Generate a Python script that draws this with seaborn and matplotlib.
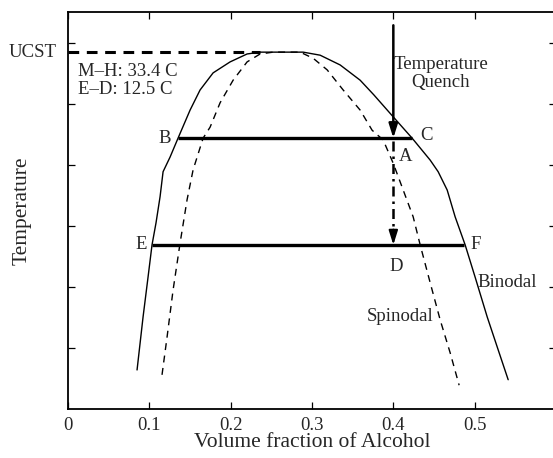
import matplotlib
matplotlib.use("Agg")
import matplotlib.pyplot as plt
import seaborn as sns
import pandas as pd

# ---- data ----
binodal_x = [0.0849, 0.0923, 0.0984, 0.1033, 0.1082, 0.1132, 0.1169, 0.1255, 0.1353,
             0.1501, 0.1624, 0.1784, 0.1993, 0.2202, 0.2362, 0.2891, 0.3100, 0.3346,
             0.3592, 0.3760, 0.3998, 0.4231, 0.4453, 0.4551, 0.4662, 0.4760, 0.4883,
             0.5006, 0.5154, 0.5289, 0.5412]
binodal_y = [0.64, 1.51, 2.16, 2.69, 3.05, 3.48, 3.89, 4.13, 4.44,
             4.90, 5.23, 5.51, 5.69, 5.82, 5.85, 5.85, 5.80, 5.64,
             5.39, 5.15, 4.79, 4.44, 4.08, 3.89, 3.59, 3.15, 2.69,
             2.16, 1.51, 0.97, 0.48]
spinodal_x = [0.1156, 0.1218, 0.1292, 0.1378, 0.1464, 0.1538, 0.1661, 0.1747, 0.1870,
              0.2030, 0.2202, 0.2362, 0.2522, 0.2854, 0.3014, 0.3186, 0.3383, 0.3592,
              0.3739, 0.3875, 0.3998, 0.4121, 0.4244, 0.4330, 0.4453, 0.4576, 0.4699,
              0.4809]
spinodal_y = [0.56, 1.18, 1.95, 2.72, 3.43, 3.92, 4.44, 4.62, 5.02,
              5.39, 5.69, 5.82, 5.85, 5.85, 5.75, 5.56, 5.23, 4.90,
              4.57, 4.41, 4.03, 3.59, 3.15, 2.69, 2.07, 1.46, 0.92,
              0.39]
ucst = 5.85
ucst_end_x = 0.236
tie_BC = (0.1353, 0.4231, 4.44)
tie_EF = (0.1033, 0.4871, 2.69)
quench_x = 0.40
quench_top = 6.29
x_ticks = [0, 0.1, 0.2, 0.3, 0.4, 0.5]
x_tick_labels = ["0", "0.1", "0.2", "0.3", "0.4", "0.5"]
y_ticks = [1, 2, 3, 4, 5, 6]

sns.set_theme(style="ticks")
plt.rcParams['font.family'] = ['Liberation Serif', 'DejaVu Serif']

fig = plt.figure(figsize=(5.53, 4.58), dpi=100)
ax = fig.add_axes([68/553, 49/458, 488/553, 397/458])

bin_df = pd.DataFrame({"x": binodal_x, "y": binodal_y})
spi_df = pd.DataFrame({"x": spinodal_x, "y": spinodal_y})
sns.lineplot(data=bin_df, x="x", y="y", sort=False, color="black", lw=1.0, ax=ax)
sns.lineplot(data=spi_df, x="x", y="y", sort=False, color="black", lw=1.0,
             ax=ax, linestyle=(0, (5, 4)))

# UCST dashed line
ax.plot([0, ucst_end_x], [ucst, ucst], color="black", lw=2.2, linestyle=(0, (3.5, 2.5)))
# tie lines
ax.plot([tie_BC[0], tie_BC[1]], [tie_BC[2], tie_BC[2]], color="black", lw=2.4,
        solid_capstyle="butt")
ax.plot([tie_EF[0], tie_EF[1]], [tie_EF[2], tie_EF[2]], color="black", lw=2.4,
        solid_capstyle="butt")
# quench arrow
ax.annotate("", xy=(quench_x, tie_BC[2]), xytext=(quench_x, quench_top),
            arrowprops=dict(arrowstyle="-|>,head_length=0.7,head_width=0.22",
                            color="black", lw=1.8, shrinkA=0, shrinkB=0))
ax.plot([quench_x, quench_x], [tie_BC[2] - 0.05, tie_EF[2] + 0.2], color="black",
        lw=1.8, linestyle=(0, (4, 2, 1, 2)))
ax.annotate("", xy=(quench_x, tie_EF[2]), xytext=(quench_x, tie_EF[2] + 0.25),
            arrowprops=dict(arrowstyle="-|>,head_length=0.7,head_width=0.22",
                            color="black", lw=1.5, shrinkA=0, shrinkB=0))

fs = 13.5
ax.text(0.1265, 4.44, "B", ha="right", va="center", fontsize=fs)
ax.text(0.433, 4.49, "C", ha="left", va="center", fontsize=fs)
ax.text(0.407, 4.14, "A", ha="left", va="center", fontsize=fs)
ax.text(0.097, 2.69, "E", ha="right", va="center", fontsize=fs)
ax.text(0.4945, 2.69, "F", ha="left", va="center", fontsize=fs)
ax.text(0.403, 2.34, "D", ha="center", va="center", fontsize=fs)
ax.text(0.503, 2.08, "Binodal", ha="left", va="center", fontsize=fs)
ax.text(0.4085, 1.52, "Spinodal", ha="center", va="center", fontsize=fs)
ax.text(0.458, 5.50, "Temperature\nQuench", ha="center", va="center", fontsize=fs,
        linespacing=1.15)
ax.text(0.012, 5.39, "M\u2013H: 33.4 C\nE\u2013D: 12.5 C", ha="left", va="center",
        fontsize=fs, linespacing=1.08)
ax.text(-0.0135, ucst, "UCST", ha="right", va="center", fontsize=fs)

ax.set_xlim(0, 0.6)
ax.set_ylim(0, 6.508)
ax.set_xticks(x_ticks)
ax.set_xticklabels(x_tick_labels, fontsize=fs)
ax.set_yticks(y_ticks)
ax.set_yticklabels([])
ax.tick_params(direction="in", top=True, right=True, length=5, width=0.9, color="black")
ax.tick_params(axis="x", pad=6)
for s in ax.spines.values():
    s.set_color("black")
    s.set_linewidth(1.3)
ax.set_xlabel("Volume fraction of Alcohol", fontsize=15.5, labelpad=-1)
ax.set_ylabel("Temperature", fontsize=15.5, labelpad=23)

fig.savefig("out.png", dpi=100)
